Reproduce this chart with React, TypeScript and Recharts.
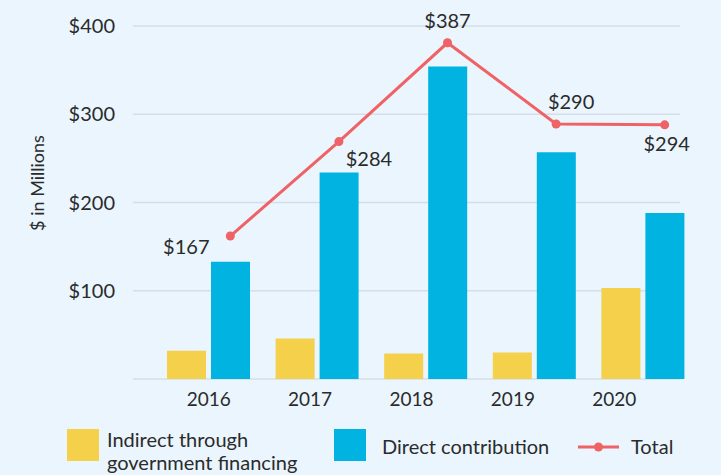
import * as React from 'react';
import { ComposedChart, Bar, Line, XAxis, YAxis, CartesianGrid, LabelList } from 'recharts';

const years = ['2016', '2017', '2018', '2019', '2020'];
const indirect = [32, 46, 29, 30, 103];
const direct = [133, 234, 354, 257, 188];
const total = [162, 269, 381, 289, 288];
const totalLabels = ['$167', '$284', '$387', '$290', '$294'];
const yTicks = [0, 100, 200, 300, 400];

const data = years.map((year, i) => ({
  year,
  indirect: indirect[i],
  direct: direct[i],
  total: total[i],
  label: totalLabels[i],
}));

const YELLOW = '#f4d04b';
const CYAN = '#00b3e1';
const RED = '#ef6265';
const TEXT = '#2b2b2b';
const FONT = 'Lato, "Open Sans", sans-serif';

// where each total label sits relative to its point
const labelOffsets = [
  [-44, 10],
  [30, 16],
  [0, -23],
  [15, -23],
  [2, 18],
];

const TotalLabel = (props: any) => {
  const { x, y, index, value } = props;
  const [dx, dy] = labelOffsets[index] || [0, -20];
  return (
    <text x={x + dx} y={y + dy} textAnchor="middle" dominantBaseline="central"
      fill={TEXT} fontSize={20} fontFamily={FONT}>
      {value}
    </text>
  );
};

export default function App() {
  return (
    <div style={{ position: 'fixed', left: 0, top: 0, width: 721, height: 475, background: '#eaf5fe', fontFamily: FONT, color: TEXT }}>
      <ComposedChart width={721} height={475} data={data}
        margin={{ top: 26, right: 2, bottom: 66, left: 0 }} barGap={5}>
        <CartesianGrid vertical={false} stroke="#d6dde7" strokeWidth={1.5} x={133} width={547} />
        <XAxis dataKey="year" hide height={0} padding={{ left: 0, right: 22 }} />
        <XAxis dataKey="year" xAxisId="line" hide height={0} padding={{ left: 22, right: 0 }} />
        <XAxis dataKey="year" xAxisId="ticks" axisLine={false} tickLine={false} tickSize={0} tickMargin={14}
          padding={{ left: 4, right: 54 }} height={30}
          tick={{ fill: TEXT, fontSize: 19, fontFamily: FONT }} />
        <YAxis domain={[0, 400]} ticks={yTicks} width={154} axisLine={false} tickLine={false} tickSize={0} tickMargin={39}
          tickFormatter={(v: number) => (v === 0 ? '' : `$${v}`)}
          tick={{ fill: TEXT, fontSize: 20, fontFamily: FONT }} />
        <Bar dataKey="indirect" fill={YELLOW} barSize={39} isAnimationActive={false} />
        <Bar dataKey="direct" fill={CYAN} barSize={39} isAnimationActive={false} />
        <Line dataKey="total" xAxisId="line" stroke={RED} strokeWidth={3}
          dot={{ r: 4.5, fill: RED, stroke: RED, strokeWidth: 0 }} activeDot={false} isAnimationActive={false}>
          <LabelList dataKey="label" content={TotalLabel} />
        </Line>
      </ComposedChart>

      <div style={{ position: 'absolute', left: 37, top: 183, transform: 'translate(-50%, -50%) rotate(-90deg)', whiteSpace: 'nowrap', fontSize: 18 }}>
        $ in Millions
      </div>

      <div style={{ position: 'absolute', left: 67, top: 429, width: 32, height: 32, background: YELLOW }} />
      <div style={{ position: 'absolute', left: 107, top: 428, fontSize: 20, lineHeight: '23px', whiteSpace: 'nowrap' }}>
        Indirect through<br />government financing
      </div>
      <div style={{ position: 'absolute', left: 334, top: 429, width: 32, height: 32, background: CYAN }} />
      <div style={{ position: 'absolute', left: 382, top: 435, fontSize: 20, lineHeight: '23px', whiteSpace: 'nowrap' }}>
        Direct contribution
      </div>
      <svg style={{ position: 'absolute', left: 577, top: 437 }} width={44} height={20}>
        <line x1={1} y1={10} x2={42} y2={10} stroke={RED} strokeWidth={3} />
        <circle cx={21.5} cy={10} r={4.5} fill={RED} />
      </svg>
      <div style={{ position: 'absolute', left: 631, top: 435, fontSize: 20, lineHeight: '23px' }}>
        Total
      </div>
    </div>
  );
}
